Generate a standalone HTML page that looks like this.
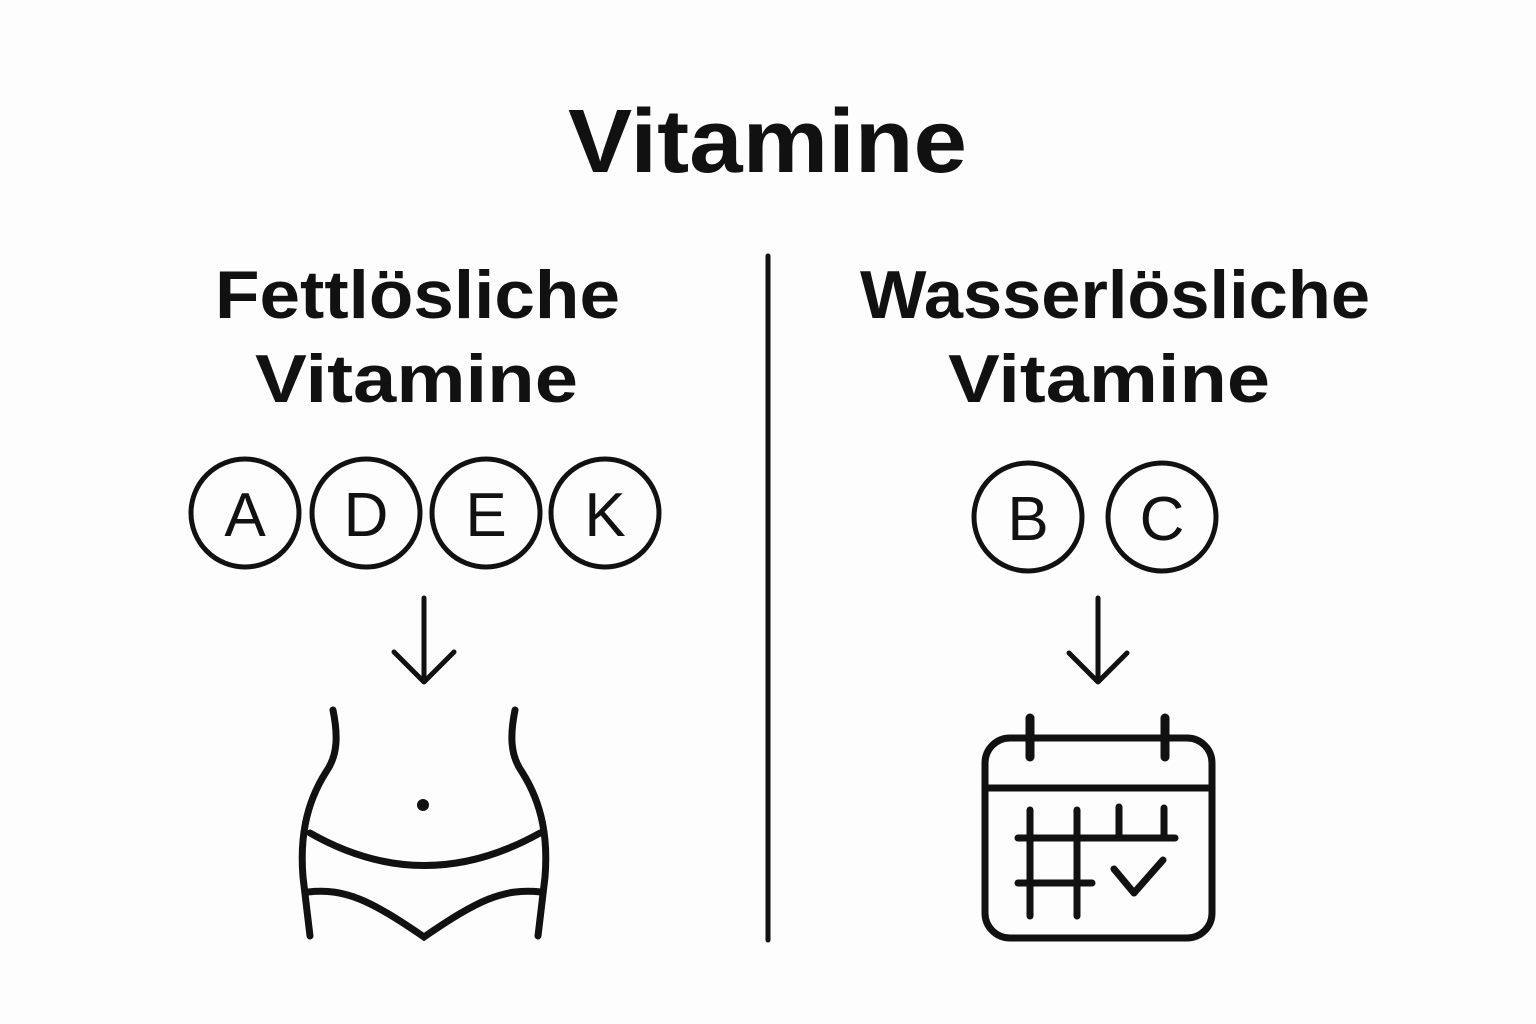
<!DOCTYPE html>
<html><head><meta charset="utf-8"><style>
html,body{margin:0;padding:0;background:#fdfdfd;}
svg{display:block;}
text{font-family:"Liberation Sans",sans-serif;font-weight:bold;fill:#111;}
</style></head><body>
<svg width="1536" height="1024" viewBox="0 0 1536 1024" xmlns="http://www.w3.org/2000/svg">
<rect width="1536" height="1024" fill="#fdfdfd"/>
<text x="568" y="172" font-size="90" textLength="399" lengthAdjust="spacingAndGlyphs">Vitamine</text>
<text x="215" y="318" font-size="68" textLength="405" lengthAdjust="spacingAndGlyphs">Fettlösliche</text>
<text x="255" y="402" font-size="68" textLength="323" lengthAdjust="spacingAndGlyphs">Vitamine</text>
<text x="860" y="318" font-size="68" textLength="510" lengthAdjust="spacingAndGlyphs">Wasserlösliche</text>
<text x="948" y="402" font-size="68" textLength="322" lengthAdjust="spacingAndGlyphs">Vitamine</text>
<line x1="768" y1="256" x2="768" y2="940" stroke="#111" stroke-width="5" stroke-linecap="round"/>
<g fill="none" stroke="#111" stroke-width="5">
<circle cx="245" cy="513" r="54"/><circle cx="366" cy="513" r="54"/>
<circle cx="486" cy="513" r="54"/><circle cx="605" cy="513" r="54"/>
<circle cx="1028" cy="517" r="54"/><circle cx="1162" cy="517" r="54"/>
</g>
<g font-size="62" text-anchor="middle" font-weight="normal">
<text x="245" y="536" style="font-weight:normal">A</text>
<text x="366" y="536" style="font-weight:normal">D</text>
<text x="486" y="536" style="font-weight:normal">E</text>
<text x="605" y="536" style="font-weight:normal">K</text>
<text x="1028" y="540" style="font-weight:normal">B</text>
<text x="1162" y="540" style="font-weight:normal">C</text>
</g>
<g fill="none" stroke="#111" stroke-width="5" stroke-linecap="round" stroke-linejoin="round">
<line x1="424" y1="598" x2="424" y2="681"/><polyline points="394,652 424,682 454,652"/>
<line x1="1098" y1="598" x2="1098" y2="681"/><polyline points="1069,653 1098,682 1127,653"/>
</g>
<g fill="none" stroke="#111" stroke-width="7" stroke-linecap="round">
<path d="M333,710 C338,735 338,755 326,772 C305,805 300,840 303,877 L310,936"/>
<path d="M515,710 C510,735 510,755 522,772 C543,805 548,840 545,877 L538,936"/>
<path d="M310,833 Q424,898 540,833"/>
<path d="M308,892 C345,888 370,900 424,937 C478,900 503,888 541,892"/>
</g>
<circle cx="423" cy="805" r="6" fill="#111"/>
<g fill="none" stroke="#111" stroke-width="7" stroke-linecap="round" stroke-linejoin="round">
<rect x="985" y="738" width="227" height="200" rx="25"/>
<line x1="985" y1="788" x2="1212" y2="788"/>
<line x1="1030" y1="718" x2="1030" y2="757" stroke-width="9"/>
<line x1="1165" y1="718" x2="1165" y2="757" stroke-width="9"/>
<line x1="1030" y1="810" x2="1030" y2="916"/>
<line x1="1077" y1="810" x2="1077" y2="916"/>
<line x1="1119" y1="807" x2="1119" y2="838"/>
<line x1="1164" y1="808" x2="1164" y2="838"/>
<line x1="1018" y1="838" x2="1175" y2="838"/>
<line x1="1018" y1="883" x2="1092" y2="883"/>
<polyline points="1114,869 1134,893 1163,860"/>
</g>
</svg>
</body></html>
